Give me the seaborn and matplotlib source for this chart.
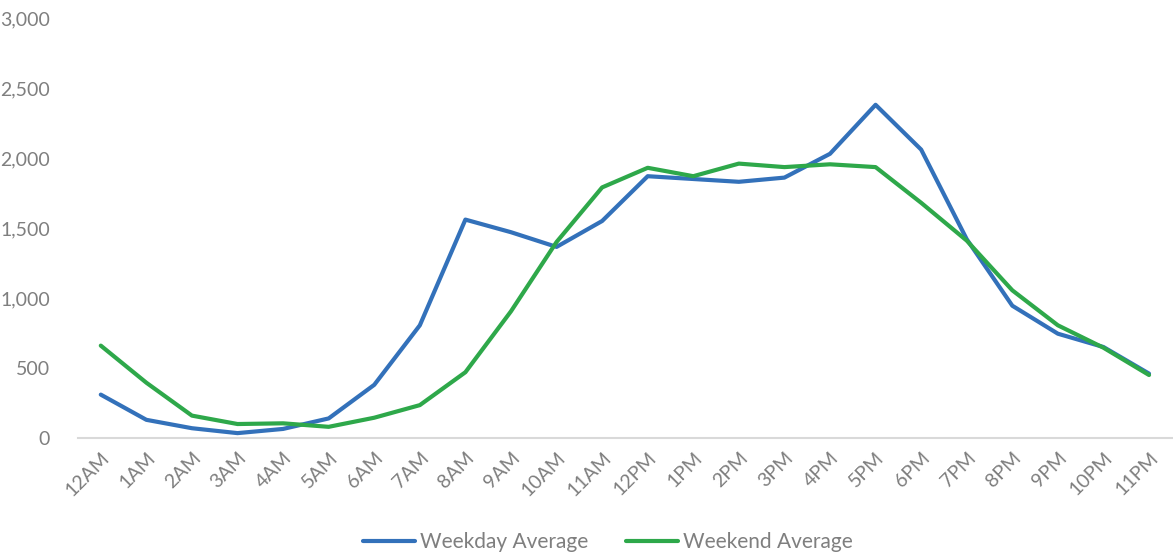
import numpy as np
import pandas as pd
import matplotlib
matplotlib.use("Agg")
import matplotlib.pyplot as plt
from matplotlib.ticker import FuncFormatter
import seaborn as sns

# hour labels along the x axis
hours = ["12AM", "1AM", "2AM", "3AM", "4AM", "5AM", "6AM", "7AM", "8AM", "9AM",
         "10AM", "11AM", "12PM", "1PM", "2PM", "3PM", "4PM", "5PM", "6PM", "7PM",
         "8PM", "9PM", "10PM", "11PM"]

# values
weekday_avg = [310, 130, 70, 35, 65, 140, 380, 805, 1560, 1470,
               1365, 1550, 1870, 1850, 1830, 1860, 2030, 2380, 2060, 1420,
               945, 745, 650, 460]
weekend_avg = [660, 395, 160, 100, 105, 80, 145, 235, 470, 905,
               1400, 1790, 1930, 1870, 1960, 1935, 1955, 1935, 1680, 1410,
               1055, 805, 645, 450]

df = pd.DataFrame({
    "hour": list(range(len(hours))) * 2,
    "value": weekday_avg + weekend_avg,
    "series": ["Weekday Average"] * len(hours) + ["Weekend Average"] * len(hours),
})

sns.set_style("white")
plt.rcParams["font.family"] = ["Lato", "DejaVu Sans"]

text_color = "#7f7f7f"
palette = {"Weekday Average": "#3371BA", "Weekend Average": "#2EA84A"}

fig = plt.figure(figsize=(11.73, 5.57), dpi=100)
ax = fig.add_axes([0.0665, 0.2136, 0.9325, 0.7541])

sns.lineplot(data=df, x="hour", y="value", hue="series", palette=palette,
             linewidth=3, ax=ax, legend=True)

ax.set_xlim(-0.5, len(hours) - 0.5)
ax.set_ylim(0, 3000)
ax.set_yticks(np.arange(0, 3001, 500))
ax.yaxis.set_major_formatter(FuncFormatter(lambda v, p: f"{int(v):,}"))
ax.set_xticks(range(len(hours)))
ax.set_xticklabels(hours, rotation=45, ha="right", rotation_mode="anchor")

ax.tick_params(axis="y", length=0, pad=20, labelsize=14, labelcolor=text_color)
ax.tick_params(axis="x", length=0, pad=8, labelsize=14, labelcolor=text_color)

ax.set_xlabel("")
ax.set_ylabel("")
for side in ["top", "right", "left"]:
    ax.spines[side].set_visible(False)
ax.spines["bottom"].set_color("#d9d9d9")
ax.spines["bottom"].set_linewidth(1.5)

handles, labels = ax.get_legend_handles_labels()
ax.get_legend().remove()
leg = fig.legend(handles, labels, loc="lower center", bbox_to_anchor=(0.518, -0.025),
                 ncol=2, frameon=False, fontsize=15, handlelength=2.5,
                 handletextpad=0.25, columnspacing=1.8)
for t in leg.get_texts():
    t.set_color(text_color)

fig.savefig("out.png", dpi=100)
